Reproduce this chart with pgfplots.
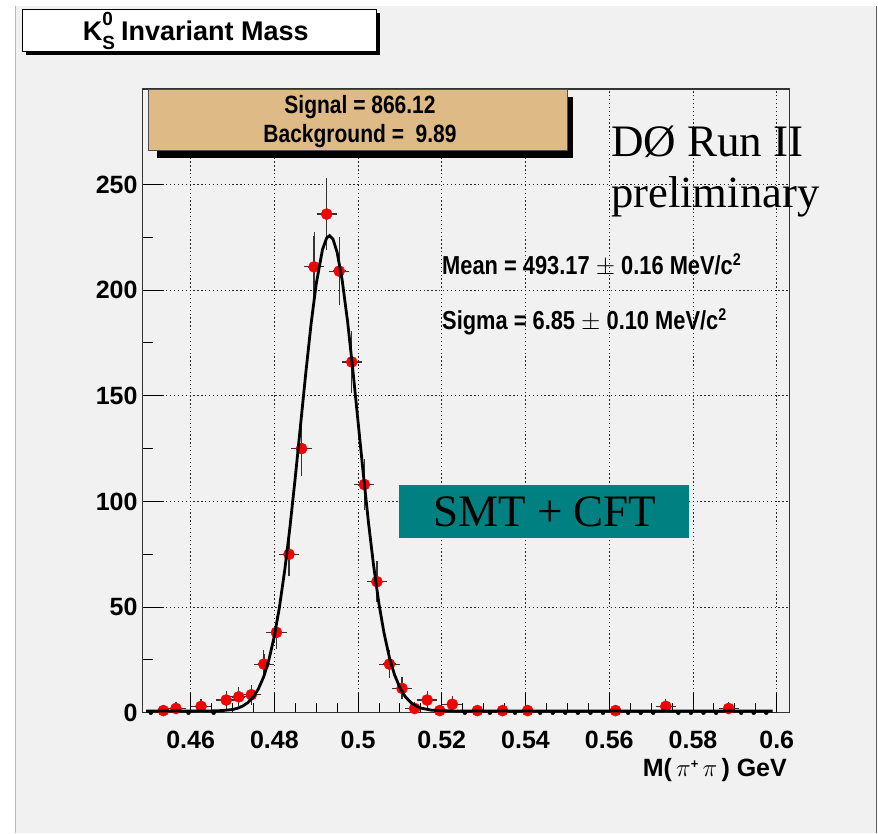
\documentclass[border=0pt]{standalone}
\usepackage{pgfplots}
\pgfplotsset{compat=1.18}
\usepackage{pgfplotstable}
\usepackage{fontspec}
\setmainfont{Liberation Sans}
\newfontfamily\condsans[FakeStretch=0.84]{Liberation Sans}
\newfontfamily\serif{Liberation Serif}
\definecolor{canvas}{RGB}{241,241,241}
\definecolor{tanbox}{RGB}{222,186,135}
\definecolor{tealbox}{RGB}{0,128,128}
\definecolor{markred}{RGB}{240,5,5}

\pgfplotstableread{
x y ex ey
0.4535 1 0.0015 1
0.4565 2 0.0015 1.41
0.4625 3 0.0015 1.73
0.4685 6 0.0015 2.45
0.4715 7.5 0.0015 2.74
0.4745 8.5 0.0015 2.92
0.4775 23 0.0015 4.80
0.4805 38 0.0015 6.16
0.4835 75 0.0015 8.66
0.4865 125 0.0015 11.18
0.4895 211 0.0015 14.53
0.4925 236 0.0015 15.36
0.4955 209 0.0015 14.46
0.4985 166 0.0015 12.88
0.5015 108 0.0015 10.39
0.5045 62 0.0015 7.87
0.5075 23 0.0015 4.80
0.5105 11.5 0.0015 3.39
0.5135 2 0.0015 1.41
0.5165 6 0.0015 2.45
0.5195 1 0.0015 1
0.5225 4 0.0015 2
0.5285 1 0.0015 1
0.5345 1 0.0015 1
0.5405 1 0.0015 1
0.5615 1 0.0015 1
0.5735 3 0.0015 1.73
0.5885 2 0.0015 1.41
}\datatable

\pgfplotstableread{
x y ex
0.4505 0 0.0015
0.4595 0 0.0015
0.4655 0 0.0015
0.5255 0 0.0015
0.5315 0 0.0015
0.5375 0 0.0015
0.5435 0 0.0015
0.5465 0 0.0015
0.5495 0 0.0015
0.5525 0 0.0015
0.5555 0 0.0015
0.5585 0 0.0015
0.5645 0 0.0015
0.5675 0 0.0015
0.5705 0 0.0015
0.5765 0 0.0015
0.5795 0 0.0015
0.5825 0 0.0015
0.5855 0 0.0015
0.5915 0 0.0015
0.5945 0 0.0015
0.5975 0 0.0015
}\emptytable

\pgfplotstableread{
x y
0.4494 0.8
0.4600 0.8
0.4650 0.85
0.4675 1.0
0.4700 1.5
0.4712 2.1
0.4725 3.2
0.4737 4.8
0.4750 7.5
0.4762 11.3
0.4775 17.2
0.4787 25.0
0.4800 36.2
0.4812 49.7
0.4825 67.7
0.4837 87.3
0.4850 111.3
0.4862 134.9
0.4875 160.5
0.4888 184.4
0.4900 202.9
0.4915 219.2
0.4925 224.7
0.4932 225.8
0.4940 224.2
0.4950 217.9
0.4962 204.8
0.4975 185.1
0.4987 163.2
0.5000 137.7
0.5012 114.0
0.5025 89.8
0.5037 69.8
0.5050 51.4
0.5062 37.7
0.5075 26.0
0.5087 18.0
0.5100 11.8
0.5112 7.8
0.5125 5.0
0.5137 3.3
0.5150 2.2
0.5175 1.2
0.5200 0.9
0.5250 0.8
0.5990 0.8
}\fittable

\begin{document}
\begin{tikzpicture}
\path[use as bounding box] (0,0) rectangle (878pt,833pt);
\fill[white] (0,0) rectangle (878pt,833pt);
\fill[canvas] (15pt,0) rectangle (876.5pt,827pt);
\draw[gray!55, line width=1pt] (15pt,0) -- (15pt,827pt);
\draw[gray!75!black, line width=1.2pt] (876.5pt,0) -- (876.5pt,827pt);

% title box
\fill[black] (26pt,778pt) rectangle (379.5pt,820pt);
\filldraw[fill=white,draw=black,line width=1pt] (22.7pt,781.3pt) rectangle (376pt,823pt);
\node[anchor=base west, inner sep=0pt] at (82.7pt,792.3pt)
  {\fontsize{27}{32}\selectfont\bfseries K\makebox[0pt][l]{\raisebox{15pt}{\fontsize{19}{19}\selectfont 0}}\raisebox{-9pt}{\fontsize{19}{19}\selectfont S}\hspace{6pt}Invariant Mass};

\begin{axis}[
  at={(142.7pt,120.3pt)}, anchor=south west,
  scale only axis, width=646.6pt, height=623.7pt,
  xmin=0.44856, xmax=0.603, ymin=0, ymax=295.2,
  xtick={0.46,0.48,0.50,0.52,0.54,0.56,0.58,0.60},
  xticklabels={0.46,0.48,0.5,0.52,0.54,0.56,0.58,0.6},
  ytick={0,50,100,150,200,250},
  yticklabels={0,50,100,150,200,250},
  minor x tick num=3, minor y tick num=1,
  tick pos=left, tick align=inside,
  major tick length=20pt, minor tick length=10pt,
  tick style={black, line width=1pt},
  axis line style={black!80, line width=1.2pt},
  grid=major,
  major grid style={black!85, line width=0.9pt, dash pattern=on 1.3pt off 2.6pt},
  /pgf/number format/assume math mode=true,
  ticklabel style={font=\fontsize{25}{30}\selectfont\bfseries},
  xticklabel style={inner sep=0pt, anchor=north, yshift=-18.5pt},
  yticklabel style={inner sep=0pt, anchor=east, xshift=-5pt},
  clip mode=individual,
]
\addplot[only marks, mark=none, forget plot,
  error bars/.cd, x dir=both, x explicit,
  error bar style={draw=black!85, line width=1.3pt},
  error mark options={draw=black!85, mark size=4pt, line width=1.2pt}]
  table[x=x, y=y, x error=ex] {\emptytable};
\addplot[only marks, mark=*, mark size=5.6pt, mark options={fill=markred, draw=markred},
  error bars/.cd, x dir=both, x explicit, y dir=both, y explicit,
  error bar style={draw=black!80, line width=1.3pt},
  error mark options={draw=black!80, mark size=3.8pt, line width=1.2pt}]
  table[x=x, y=y, x error=ex, y error=ey] {\datatable};
\addplot[black, line width=2.8pt, mark=none] table[x=x, y=y] {\fittable};
\end{axis}

% stats box
\fill[black] (156.7pt,675.3pt) rectangle (573.3pt,736.3pt);
\filldraw[fill=tanbox, draw=black!70, line width=1pt] (148.3pt,682pt) rectangle (567.7pt,743.7pt);
\node[anchor=base, inner sep=0pt] at (360pt,719.7pt) {\condsans\bfseries\fontsize{25}{30}\selectfont Signal = 866.12};
\node[anchor=base, inner sep=0pt] at (360pt,690.3pt) {\condsans\bfseries\fontsize{25}{30}\selectfont Background =\ \ 9.89};

% mean/sigma
\node[anchor=base west, inner sep=0pt] at (442pt,558pt) {\condsans\bfseries\fontsize{26}{30}\selectfont Mean = 493.17 {\mdseries\(\pm\)} 0.16 MeV/c\raisebox{9pt}{\fontsize{17}{17}\selectfont 2}};
\node[anchor=base west, inner sep=0pt] at (442pt,503pt) {\condsans\bfseries\fontsize{26}{30}\selectfont Sigma = 6.85 {\mdseries\(\pm\)} 0.10 MeV/c\raisebox{9pt}{\fontsize{17}{17}\selectfont 2}};

% D0 text
\node[anchor=base west, inner sep=0pt] at (611pt,676.3pt) {\serif\fontsize{45}{50}\selectfont DØ Run II};
\node[anchor=base west, inner sep=0pt] at (611pt,625pt) {\serif\fontsize{44.6}{50}\selectfont preliminary};

% SMT + CFT box
\fill[tealbox] (399pt,294.7pt) rectangle (689pt,348pt);
\node[anchor=base, inner sep=0pt] at (545pt,306.3pt) {\serif\fontsize{45}{50}\selectfont SMT + CFT};

% x label
\node[anchor=base east, inner sep=0pt] at (787pt,56.3pt) {\fontsize{25}{30}\selectfont\bfseries M(\,\(\pi\)\raisebox{8pt}{\fontsize{13}{13}\selectfont +}\,\(\pi\)\,) GeV};
\end{tikzpicture}
\end{document}
